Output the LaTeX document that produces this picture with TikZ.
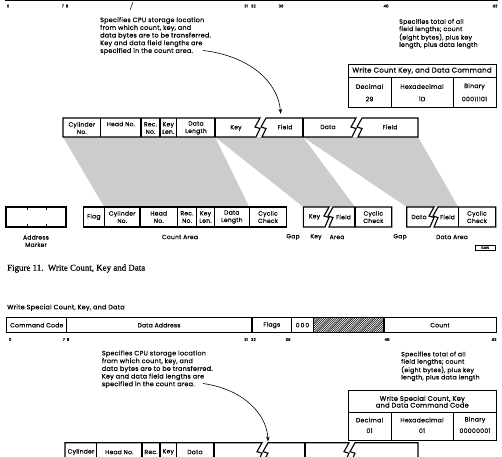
\documentclass[tikz,border=0pt]{standalone}
\usepackage{fontspec}
\setmainfont{Poppins}[LetterSpace=4, FakeBold=0.4]
\newfontfamily\capfont{Liberation Serif}[FakeBold=0.6]
\usetikzlibrary{arrows.meta}
\newcommand\setfs[2]{\fontsize{#1}{#2}\selectfont}
\tikzset{
  rec/.style={line width=1.1pt, line join=miter},
  tbl/.style={line width=0.8pt},
  shade/.style={fill=black!20, draw=none},
  lbl/.style={font=\setfs{6.0}{7.4}, inner sep=0pt, align=center},
  bit/.style={font=\setfs{3.9}{4}, inner sep=0pt},
  txt/.style={font=\setfs{6.4}{7.7}, inner sep=0pt, align=left, anchor=north west},
  rtxt/.style={font=\setfs{6.2}{6.1}, inner sep=0pt, align=left, anchor=north west},
  tab/.style={font=\setfs{6.2}{7}, inner sep=0pt, align=center},
  arr/.style={line width=0.6pt, -{Stealth[length=5pt,width=3.6pt]}}
}
\begin{document}
\begin{tikzpicture}[x=1pt,y=-1pt]
\useasboundingbox (0,0) rectangle (502,456);
\clip (0,0) rectangle (502,456);
\fill[white] (0,0) rectangle (502,456);

% ---------- remnant of top format box ----------
\draw[line width=1.3pt] (5,0.6) -- (498,0.6);
\draw[line width=0.5pt] (130,10) -- (133,2);
\node[bit] (b0) at (8,6) {0};
\node[bit] (b1) at (65,6) {7\hspace{2pt}8};
\node[bit] (b2) at (250,6) {31\hspace{3pt}32};
\node[bit] (b3) at (281,6) {36};
\node[bit] (b4) at (386,6) {48};
\node[bit] (b5) at (495,6) {63};

% ---------- descriptive texts ----------
\node[txt] (t1) at (100,17) {Specifies CPU storage location\\from which count, key, and\\data bytes are to be transferred.\\Key and data field lengths are\\specified in the count area.};
\node[rtxt] (r1) at (399,18.8) {Specifies total of all\\field lengths; count\\(eight bytes), plus key\\length, plus data length};

% ---------- command table ----------
\draw[tbl] (348,64) rectangle (496,107);
\draw[tbl] (348,77) -- (496,77);
\draw[tbl] (391,77) -- (391,107);
\draw[tbl] (453,77) -- (453,107);
\node[tab, font=\setfs{7.0}{7}] (h1) at (422,70.8) {Write Count Key, and Data Command};
\node[tab] (d1) at (369.5,86.5) {Decimal};
\node[tab] (x1) at (422,86.5) {Hexadecimal};
\node[tab] (y1) at (474.5,86.5) {Binary};
\node[tab] (d1v) at (369.5,99) {29};
\node[tab] (x1v) at (422,99) {1D};
\node[tab] (y1v) at (474.5,99) {00011101};

% ---------- shaded projections ----------
\fill[shade] (63,137) -- (215,137) -- (249.3,207) -- (104.3,207) -- cycle;
\fill[shade] (215,137) -- (303,137) -- (355,207) -- (303.3,207) -- cycle;
\fill[shade] (303,137) -- (418,137) -- (458.3,207) -- (406.7,207) -- cycle;

% ---------- record on track ----------
\draw[rec, fill=white] (63,118) -- (260,118) -- (255,127) -- (260,128.5) -- (256,137) -- (63,137) -- cycle;
\draw[rec, fill=white] (266,118) -- (356,118) -- (351,127) -- (356,128.5) -- (352,137) -- (262,137) -- (266,128.5) -- (261,127) -- cycle;
\draw[rec, fill=white] (362,118) -- (418,118) -- (418,137) -- (358,137) -- (362,128.5) -- (357,127) -- cycle;
\foreach \xx in {100.7,141,160,176.7,215,303} \draw[rec] (\xx,118) -- (\xx,137);
\node[lbl] (k1) at (81.8,128) {Cylinder\\No.};
\node[lbl] (k2) at (120.8,124) {Head No.};
\node[lbl] (k3) at (150.5,128) {Rec.\\No.};
\node[lbl] (k4) at (168.3,128) {Key\\Len.};
\node[lbl] (k5) at (196,128) {Data\\Length};
\node[lbl] (k6) at (236,128) {Key};
\node[lbl] (k7) at (285,127) {Field};
\node[lbl] (k8) at (328,127) {Data};
\node[lbl] (k9) at (390,127) {Field};

\coordinate (c1s) at (203,50.5);
\coordinate (c1e) at (280.7,113.8);
\draw[arr] (c1s) .. controls (250,56) and (278,82) .. (c1e);

% ---------- lower band ----------
\draw[rec] (6,207) rectangle (66,227);
\foreach \xx in {27,46} {\draw[line width=0.6pt] (\xx,207) -- (\xx,210); \draw[line width=0.6pt] (\xx,227) -- (\xx,224);}
\node[lbl] (am) at (36,241) {Address\\Marker};

\draw[rec] (83.3,207) rectangle (286.7,227);
\foreach \xx in {104.3,140,177.3,196.7,214.3,249.3} \draw[rec] (\xx,207) -- (\xx,227);
\node[lbl] (c01) at (93.8,217) {Flag};
\node[lbl] (c02) at (122.2,217) {Cylinder\\No.};
\node[lbl] (c03) at (158.7,217) {Head\\No.};
\node[lbl] (c04) at (187,217) {Rec.\\No.};
\node[lbl] (c05) at (205.5,217) {Key\\Len.};
\node[lbl] (c06) at (231.8,217) {Data\\Length};
\node[lbl] (c07) at (268,217) {Cyclic\\Check};
\node[lbl] (ca) at (180,237) {Count Area};

\draw[rec] (329,207) -- (303.3,207) -- (303.3,227) -- (325,227) -- (329,217.5) -- (324,216) -- cycle;
\draw[rec] (333,207) -- (391.7,207) -- (391.7,227) -- (329,227) -- (333,217.5) -- (328,216) -- cycle;
\draw[rec] (355,207) -- (355,227);
\node[lbl] (e1) at (314.5,217) {Key};
\node[lbl] (e2) at (343.5,217) {Field};
\node[lbl] (e3) at (373.3,217) {Cyclic\\Check};
\node[lbl] (g1) at (293,237) {Gap};
\node[lbl] (ka) at (316,237) {Key};
\node[lbl] (kb) at (337,237) {Area};

\draw[rec] (434,207) -- (406.7,207) -- (406.7,227) -- (430,227) -- (434,217.5) -- (429,216) -- cycle;
\draw[rec] (438,207) -- (495.7,207) -- (495.7,227) -- (434,227) -- (438,217.5) -- (433,216) -- cycle;
\draw[rec] (458.3,207) -- (458.3,227);
\node[lbl] (f1) at (419,217) {Data};
\node[lbl] (f2) at (447.5,217) {Field};
\node[lbl] (f3) at (477,217) {Cyclic\\Check};
\node[lbl] (g2) at (400,237) {Gap};
\node[lbl] (da) at (452,237) {Data Area};

\draw[line width=0.6pt] (475,245) rectangle (495,250.5);
\node[inner sep=0pt, font=\setfs{3}{3}] (fn) at (485,247.8) {11295};

% ---------- caption ----------
\node[inner sep=0pt, anchor=west, font=\capfont\setfs{8.9}{9}] (cap) at (7,268.5) {Figure 11.\ \ Write Count, Key and Data};

% ================= second figure =================
\node[inner sep=0pt, anchor=west, font=\setfs{6.4}{7}] (ttl) at (7,307.7) {Write Special Count, Key, and Data};

\draw[rec] (6.7,317.7) rectangle (496.7,332.7);
\begin{scope}
  \clip (313.3,317.7) rectangle (384,332.7);
  \foreach \i in {0,2.2,...,92} \draw[line width=0.55pt] (298.3+\i,332.7) -- (313.3+\i,317.7);
\end{scope}
\foreach \xx in {66.7,252,291.7,313.3,384} \draw[rec] (\xx,317.7) -- (\xx,332.7);
\node[lbl] (s1) at (36.7,325.2) {Command Code};
\node[lbl] (s2) at (159,325.2) {Data Address};
\node[lbl] (s3) at (271.8,325.2) {Flags};
\node[lbl] (s4) at (302.5,325.2) {0\,0\,0};
\node[lbl] (s5) at (440,325.2) {Count};
\node[bit] (p0) at (10,339.5) {0};
\node[bit] (p1) at (66,339.5) {7\hspace{2pt}8};
\node[bit] (p2) at (250,339.5) {31\hspace{3pt}32};
\node[bit] (p3) at (288,339.5) {36};
\node[bit] (p4) at (387,339.5) {48};
\node[bit] (p5) at (494,339.5) {63};

\node[txt] (t2) at (101.7,350.3) {Specifies CPU storage location\\from which count, key, and\\data bytes are to be transferred.\\Key and data field lengths are\\specified in the count area.};
\node[rtxt, font=\setfs{6.2}{5.7}] (r2) at (401,351.4) {Specifies total of all\\field lengths; count\\(eight bytes), plus key\\length, plus data length};

\draw[tbl] (348,390.7) rectangle (496.7,440);
\draw[tbl] (348,412.7) -- (496.7,412.7);
\draw[tbl] (391,412.7) -- (391,440);
\draw[tbl] (453.3,412.7) -- (453.3,440);
\node[tab, font=\setfs{6.6}{6.7}] (h2) at (422.3,401.7) {Write Special Count, Key\\and Data Command Code};
\node[tab] (d2) at (369.5,420) {Decimal};
\node[tab] (x2) at (422,420) {Hexadecimal};
\node[tab] (y2) at (475,420) {Binary};
\node[tab] (d2v) at (369.5,430.7) {01};
\node[tab] (x2v) at (422,430.7) {01};
\node[tab] (y2v) at (475,430.7) {00000001};

\coordinate (c2s) at (203,383.5);
\coordinate (c2e) at (268,441.5);
\draw[arr] (c2s) .. controls (243,389) and (267,414) .. (c2e);

\draw[rec] (65,462) -- (65,442.7) -- (262,442.7) -- (257,451.7) -- (262,453.2) -- (258,462);
\draw[rec] (263,462) -- (268,453.2) -- (263,451.7) -- (268,442.7) -- (349,442.7) -- (344,451.7) -- (349,453.2) -- (345,462);
\draw[rec] (351,462) -- (355,453.2) -- (350,451.7) -- (355,442.7) -- (418,442.7) -- (418,462);
\foreach \xx in {96.7,142,160,176.7,214,305} \draw[rec] (\xx,442.7) -- (\xx,462);
\node[lbl] (m1) at (81,452) {Cylinder};
\node[lbl] (m2) at (119.3,452) {Head No.};
\node[lbl] (m3) at (151,452) {Rec.};
\node[lbl] (m4) at (168.3,452) {Key};
\node[lbl] (m5) at (195,452) {Data};
\end{tikzpicture}
\end{document}
